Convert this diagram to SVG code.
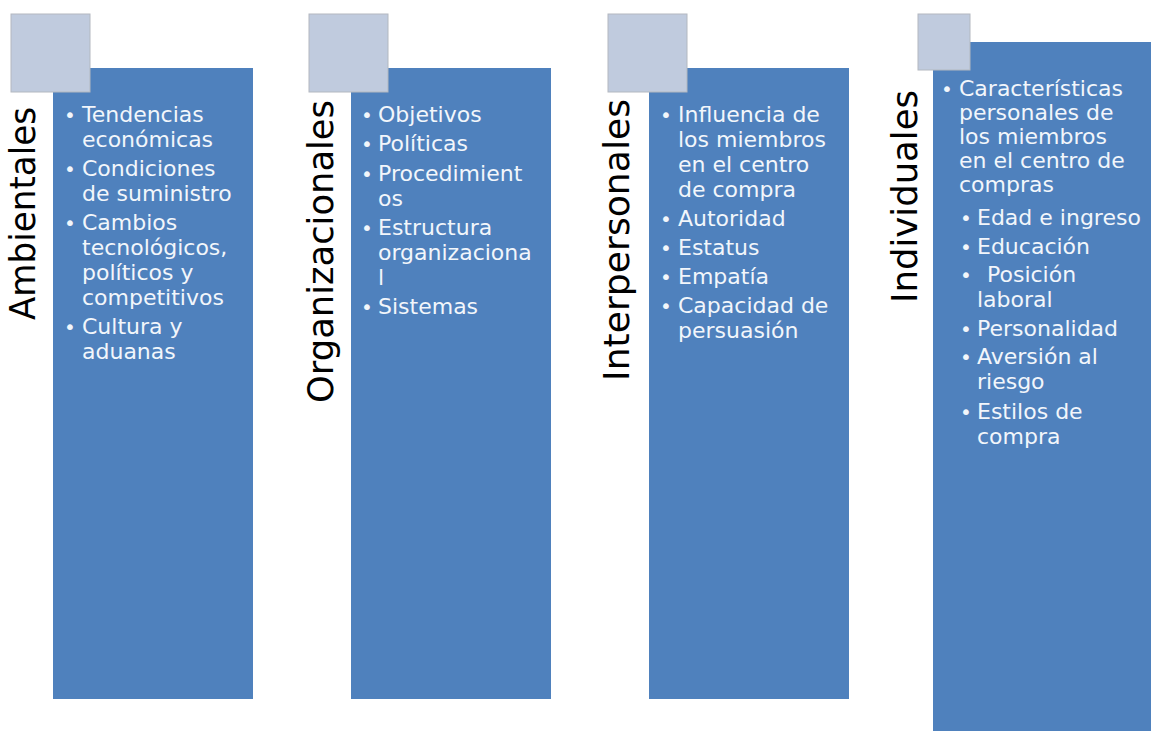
<svg xmlns="http://www.w3.org/2000/svg" width="1151" height="731" viewBox="0 0 1151 731">
<style>
.bg{fill:#ffffff}
.box{fill:#4f81bd}
.tab{fill:#c0cbde;stroke:#b3b8c0;stroke-width:1}
.lbl{font-family:"DejaVu Sans","Verdana",sans-serif;font-size:35px;fill:#000000}
.t{font-family:"DejaVu Sans","Verdana",sans-serif;font-size:22px;fill:#f2f6fb}
.b{font-family:"DejaVu Sans","Verdana",sans-serif;font-size:20px;fill:#f2f6fb;text-anchor:middle}
</style>
<rect class="bg" x="0" y="0" width="1151" height="731"/>

<g id="ambientales">
  <rect class="box" x="53" y="68" width="200" height="631"/>
  <rect class="tab" x="11" y="14" width="79" height="78"/>
  <text class="lbl" transform="translate(35,320) rotate(-90)" textLength="213" lengthAdjust="spacingAndGlyphs">Ambientales</text>
  <text class="b" x="70" y="121.7">•</text><text class="t" x="82" y="121.7">Tendencias</text>
  <text class="t" x="82" y="146.7">económicas</text>
  <text class="b" x="70" y="175.7">•</text><text class="t" x="82" y="175.7">Condiciones</text>
  <text class="t" x="82" y="200.7">de suministro</text>
  <text class="b" x="70" y="229.7">•</text><text class="t" x="82" y="229.7">Cambios</text>
  <text class="t" x="82" y="254.7">tecnológicos,</text>
  <text class="t" x="82" y="279.7">políticos y</text>
  <text class="t" x="82" y="304.7">competitivos</text>
  <text class="b" x="70" y="333.7">•</text><text class="t" x="82" y="333.7">Cultura y</text>
  <text class="t" x="82" y="358.7">aduanas</text>
</g>

<g id="organizacionales">
  <rect class="box" x="351" y="68" width="200" height="631"/>
  <rect class="tab" x="309" y="14" width="79" height="78"/>
  <text class="lbl" transform="translate(333,403) rotate(-90)" textLength="303" lengthAdjust="spacingAndGlyphs">Organizacionales</text>
  <text class="b" x="367" y="122">•</text><text class="t" x="378" y="122">Objetivos</text>
  <text class="b" x="367" y="151.3">•</text><text class="t" x="378" y="151.3">Políticas</text>
  <text class="b" x="367" y="180.6">•</text><text class="t" x="378" y="180.6">Procedimient</text>
  <text class="t" x="378" y="205.6">os</text>
  <text class="b" x="367" y="234.9">•</text><text class="t" x="378" y="234.9">Estructura</text>
  <text class="t" x="378" y="259.9">organizaciona</text>
  <text class="t" x="378" y="284.9">l</text>
  <text class="b" x="367" y="314.2">•</text><text class="t" x="378" y="314.2">Sistemas</text>
</g>

<g id="interpersonales">
  <rect class="box" x="649" y="68" width="200" height="631"/>
  <rect class="tab" x="608" y="14" width="79" height="78"/>
  <text class="lbl" transform="translate(629,381) rotate(-90)" textLength="282" lengthAdjust="spacingAndGlyphs">Interpersonales</text>
  <text class="b" x="666" y="121.7">•</text><text class="t" x="678" y="121.7">Influencia de</text>
  <text class="t" x="678" y="146.7">los miembros</text>
  <text class="t" x="678" y="171.7">en el centro</text>
  <text class="t" x="678" y="196.7">de compra</text>
  <text class="b" x="666" y="225.7">•</text><text class="t" x="678" y="225.7">Autoridad</text>
  <text class="b" x="666" y="254.7">•</text><text class="t" x="678" y="254.7">Estatus</text>
  <text class="b" x="666" y="283.7">•</text><text class="t" x="678" y="283.7">Empatía</text>
  <text class="b" x="666" y="312.7">•</text><text class="t" x="678" y="312.7">Capacidad de</text>
  <text class="t" x="678" y="337.7">persuasión</text>
</g>

<g id="individuales">
  <rect class="box" x="933" y="42" width="218" height="689"/>
  <rect class="tab" x="918" y="14" width="52" height="56"/>
  <text class="lbl" transform="translate(917,303) rotate(-90)" textLength="213" lengthAdjust="spacingAndGlyphs">Individuales</text>
  <text class="b" x="947" y="96">•</text><text class="t" x="959" y="96">Características</text>
  <text class="t" x="959" y="120">personales de</text>
  <text class="t" x="959" y="144">los miembros</text>
  <text class="t" x="959" y="168">en el centro de</text>
  <text class="t" x="959" y="192">compras</text>
  <text class="b" x="966" y="225">•</text><text class="t" x="977" y="225">Edad e ingreso</text>
  <text class="b" x="966" y="253.5">•</text><text class="t" x="977" y="253.5">Educación</text>
  <text class="b" x="966" y="282">•</text><text class="t" x="987" y="282">Posición</text>
  <text class="t" x="977" y="307">laboral</text>
  <text class="b" x="966" y="335.5">•</text><text class="t" x="977" y="335.5">Personalidad</text>
  <text class="b" x="966" y="364">•</text><text class="t" x="977" y="364">Aversión al</text>
  <text class="t" x="977" y="389">riesgo</text>
  <text class="b" x="966" y="418.5">•</text><text class="t" x="977" y="418.5">Estilos de</text>
  <text class="t" x="977" y="443.5">compra</text>
</g>
</svg>
